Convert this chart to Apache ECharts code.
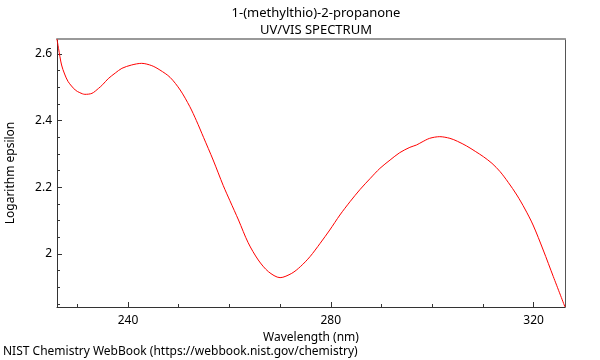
<!DOCTYPE html>
<html>
<head>
<meta charset="utf-8">
<script src="https://cdn.jsdelivr.net/npm/echarts@6/dist/echarts.min.js"></script>
<style>html,body{margin:0;padding:0;background:#fff}#c{width:600px;height:360px}</style>
</head>
<body>
<div id="c"></div>
<script>
const wavelengths = [226.0,226.3,226.9,227.5,228.2,229.6,230.5,231.5,232.9,234.2,235.0,236.1,237.5,238.8,240.7,242.7,244.7,246.3,248.3,250.3,252.2,253.5,254.9,256.8,258.8,260.1,261.8,263.7,265.7,267.7,270.0,272.3,274.0,275.9,277.9,279.8,281.8,283.8,285.8,287.8,289.7,291.7,293.6,295.6,296.9,298.0,299.5,301.5,303.5,305.0,306.8,308.5,310.1,311.8,313.4,315.0,316.7,318.3,319.9,321.9,323.9,326.2];
const logEpsilon = [2.645,2.617,2.567,2.540,2.517,2.492,2.484,2.479,2.482,2.497,2.508,2.526,2.543,2.557,2.567,2.572,2.565,2.552,2.530,2.492,2.442,2.400,2.350,2.282,2.205,2.160,2.102,2.034,1.982,1.947,1.929,1.942,1.962,1.992,2.032,2.072,2.117,2.157,2.194,2.227,2.257,2.282,2.304,2.320,2.327,2.336,2.347,2.352,2.347,2.338,2.324,2.308,2.292,2.272,2.247,2.215,2.177,2.135,2.087,2.012,1.932,1.841];
const xMajorTicks = [240, 280, 320];
const xMinorTicks = [230, 250, 260, 270, 290, 300, 310];
const yMajorTicks = [2, 2.2, 2.4, 2.6];
const yMinorTicks = [1.85, 1.9, 1.95, 2.05, 2.1, 2.15, 2.25, 2.3, 2.35, 2.45, 2.5, 2.55];
const titleLines = ['1-(methylthio)-2-propanone', 'UV/VIS SPECTRUM'];
const footerText = 'NIST Chemistry WebBook (https://webbook.nist.gov/chemistry)';

const X_MIN = 226, X_MAX = 326.2, Y_MIN = 1.841, Y_MAX = 2.645;
const FONT = 'Noto Sans';
const axisColor = '#333';

const chart = echarts.init(document.getElementById('c'), null, {renderer: 'canvas'});
const baseX = {type: 'value', min: X_MIN, max: X_MAX, gridIndex: 0, splitLine: {show: false}};
const baseY = {type: 'value', min: Y_MIN, max: Y_MAX, gridIndex: 0, splitLine: {show: false}};
chart.setOption({
  animation: false,
  textStyle: {fontFamily: FONT},
  title: {
    text: titleLines.join('\n'),
    left: 311, top: 0, textAlign: 'center',
    textStyle: {fontFamily: FONT, fontSize: 13, fontWeight: 'normal', color: '#000', lineHeight: 17}
  },
  graphic: [{
    type: 'text', left: 3, top: 346,
    style: {text: footerText, fontFamily: FONT, fontSize: 12, fill: '#000'}
  }],
  grid: {left: 57, right: 35, top: 39, bottom: 53, containLabel: false, outerBoundsMode: 'none'},
  xAxis: [
    Object.assign({}, baseX, {
      position: 'bottom',
      name: 'Wavelength (nm)', nameLocation: 'middle', nameGap: 21,
      nameTextStyle: {fontFamily: FONT, fontSize: 12, color: '#000'},
      axisLine: {show: true, lineStyle: {color: axisColor, width: 1}},
      axisTick: {show: true, inside: true, length: 5, customValues: xMajorTicks, lineStyle: {color: axisColor}},
      axisLabel: {show: true, customValues: xMajorTicks, margin: 8, fontFamily: FONT, fontSize: 12, color: '#000'}
    }),
    Object.assign({}, baseX, {
      position: 'bottom',
      axisLine: {show: false},
      axisTick: {show: true, inside: true, length: 3, customValues: xMinorTicks, lineStyle: {color: axisColor}},
      axisLabel: {show: false}
    }),
    Object.assign({}, baseX, {
      position: 'top',
      axisLine: {show: true, lineStyle: {color: '#999', width: 2}},
      axisTick: {show: false}, axisLabel: {show: false}
    })
  ],
  yAxis: [
    Object.assign({}, baseY, {
      position: 'left',
      name: 'Logarithm epsilon', nameLocation: 'middle', nameGap: 40, nameRotate: 90,
      nameTextStyle: {fontFamily: FONT, fontSize: 12, color: '#000'},
      axisLine: {show: true, lineStyle: {color: axisColor, width: 1}},
      axisTick: {show: true, inside: true, length: 5, customValues: yMajorTicks, lineStyle: {color: axisColor}},
      axisLabel: {show: true, customValues: yMajorTicks, margin: 5, fontFamily: FONT, fontSize: 12, color: '#000'}
    }),
    Object.assign({}, baseY, {
      position: 'left', offset: 0,
      axisLine: {show: false},
      axisTick: {show: true, inside: true, length: 3, customValues: yMinorTicks, lineStyle: {color: axisColor}},
      axisLabel: {show: false}
    }),
    Object.assign({}, baseY, {
      position: 'right',
      axisLine: {show: true, lineStyle: {color: '#555', width: 1}},
      axisTick: {show: false}, axisLabel: {show: false}
    })
  ],
  series: [{
    type: 'line',
    xAxisIndex: 0, yAxisIndex: 0,
    data: wavelengths.map((w, i) => [w, logEpsilon[i]]),
    showSymbol: false, symbol: 'none',
    smooth: 0.3,
    lineStyle: {color: '#ff0000', width: 1},
    clip: true
  }]
});
</script>
</body>
</html>
